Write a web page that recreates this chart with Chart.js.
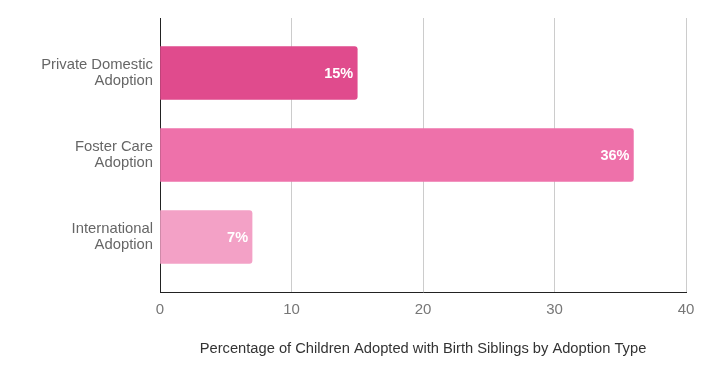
<!DOCTYPE html>
<html>
<head>
<meta charset="utf-8">
<script src="https://cdn.jsdelivr.net/npm/chart.js@4"></script>
<style>
  html, body { margin: 0; padding: 0; background: #fff; }
  #wrap { width: 707px; height: 375px; }
</style>
</head>
<body>
<div id="wrap"><canvas id="adoptionChart"></canvas></div>
<script>
// data
var categories = ['Private Domestic Adoption', 'Foster Care Adoption', 'International Adoption'];
var percentages = [15, 36, 7];
var barColors = ['#e04b8d', '#ee71aa', '#f3a1c6'];
var xTicks = [0, 10, 20, 30, 40];
var xTitle = 'Percentage of Children Adopted with Birth Siblings by Adoption Type';

Chart.defaults.font.family = '"Liberation Sans", Arial, sans-serif';

// split "Private Domestic Adoption" -> ["Private Domestic", "Adoption"]
function twoLines(label) {
    var i = label.lastIndexOf(' ');
    return [label.slice(0, i), label.slice(i + 1)];
}

// white value labels inside the end of each bar
var barLabels = {
    id: 'barLabels',
    afterDatasetsDraw: function(chart) {
        var ctx = chart.ctx;
        var meta = chart.getDatasetMeta(0);
        ctx.save();
        ctx.font = 'bold 14.5px "Liberation Sans", Arial, sans-serif';
        ctx.fillStyle = '#ffffff';
        ctx.textAlign = 'right';
        ctx.textBaseline = 'middle';
        meta.data.forEach(function(bar, i) {
            ctx.fillText(percentages[i] + '%', bar.x - 4, bar.y + 1);
        });
        ctx.restore();
    }
};

var points = percentages.map(function(v, i) { return { x: v, y: i }; });

new Chart('adoptionChart', { //eslint-disable-line
    type: 'bar',
    data: {
        datasets: [{
            data: points,
            backgroundColor: barColors,
            borderRadius: { topRight: 3, bottomRight: 3 },
            borderSkipped: 'left',
            barThickness: 53
        }]
    },
    plugins: [barLabels],
    options: {
        indexAxis: 'y',
        responsive: true,
        maintainAspectRatio: false,
        animation: false,
        layout: { padding: { top: 18, right: 21, bottom: 13, left: 0 } },
        plugins: {
            legend: { display: false },
            tooltip: { enabled: false }
        },
        scales: {
            y: {
                type: 'linear',
                reverse: true,
                offset: false,
                min: -0.67,
                max: 2.67,
                afterBuildTicks: function(s) {
                    s.ticks = categories.map(function(_, i) { return { value: i }; });
                },
                afterFit: function(s) {
                    s.width = 160;
                    s.paddingTop = 0;
                    s.paddingBottom = 0;
                },
                grid: { display: false, drawTicks: false },
                border: { display: true, color: '#222', width: 1 },
                ticks: {
                    padding: 7,
                    color: '#666',
                    font: { size: 14.8, lineHeight: 1.1 },
                    callback: function(v) { return categories[v] ? twoLines(categories[v]) : ''; }
                }
            },
            x: {
                min: xTicks[0],
                max: xTicks[xTicks.length - 1],
                afterBuildTicks: function(s) {
                    s.ticks = xTicks.map(function(v) { return { value: v }; });
                },
                afterFit: function(s) { s.height = 70; },
                grid: { color: '#cccccc', lineWidth: 1, drawTicks: false },
                border: { display: true, color: '#222', width: 1 },
                ticks: {
                    padding: 9,
                    color: '#777',
                    font: { size: 15 }
                },
                title: {
                    display: true,
                    text: xTitle,
                    color: '#333',
                    font: { size: 14.7 },
                    padding: { top: 20 }
                }
            }
        }
    }
});
</script>
</body>
</html>
